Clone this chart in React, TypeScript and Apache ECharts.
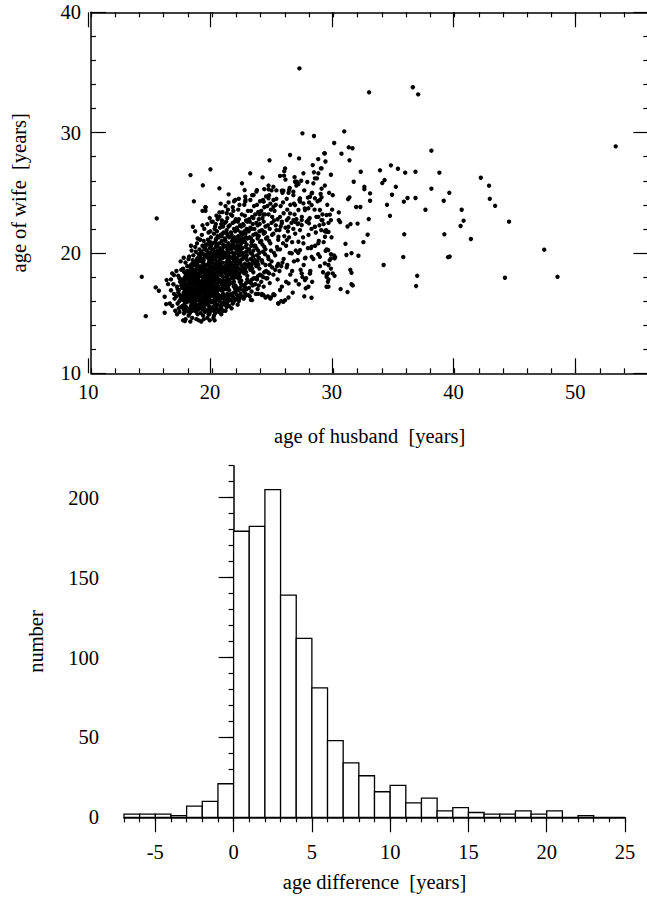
import React, { useEffect, useRef } from "react";
import * as echarts from "echarts";

// ---------- scatter: [age of husband, age of wife] ----------
const couplesYoung: [number, number][] = [
  [16.6,16.9],[16.7,15.6],[16.8,17.4],[16.9,16.2],[16.7,18.3],[16.95,15.2],[16.6,17.8],[16.85,16.6],
  [17.05,16.4],[17.1,17.2],[17.15,15.8],[17.2,18.1],[17.25,16.9],[17.3,15.1],[17.35,17.6],[17.4,16.2],[17.45,18.6],[17.1,14.9],[17.2,16.7],[17.3,17.9],[17.4,15.5],[17.15,17.0],[17.35,16.5],[17.45,17.3],[17.05,18.5],[17.25,15.4],[17.4,19.3],[17.3,16.0],
  [17.55,16.1],[17.6,17.5],[17.65,15.3],[17.7,18.4],[17.75,16.8],[17.8,14.5],[17.85,17.1],[17.9,15.9],[17.95,18.9],[17.55,17.8],[17.6,16.4],[17.65,19.6],[17.7,15.7],[17.75,17.4],[17.8,16.2],[17.85,18.2],[17.9,16.9],[17.95,15.2],[17.6,18.7],[17.7,17.0],[17.8,17.7],[17.9,16.5],[17.55,15.6],[17.65,16.7],[17.75,18.0],[17.85,15.5],[17.95,17.3],[17.6,14.4],[17.7,16.0],[17.8,19.2],[17.9,17.9],[17.65,17.2],[17.75,15.1],[17.85,16.6],[17.95,16.1],
  [18.05,17.2],[18.1,16.3],[18.15,18.5],[18.2,15.4],[18.25,17.8],[18.3,16.7],[18.35,19.1],[18.4,15.9],[18.45,18.0],[18.05,16.0],[18.1,17.6],[18.15,15.0],[18.2,18.8],[18.25,16.4],[18.3,17.3],[18.35,14.6],[18.4,17.0],[18.45,16.2],[18.05,18.3],[18.1,19.7],[18.15,16.9],[18.2,17.5],[18.25,15.6],[18.3,18.6],[18.35,16.1],[18.4,19.4],[18.45,17.4],[18.1,15.3],[18.2,16.6],[18.3,15.8],[18.4,18.2],[18.05,14.8],[18.15,17.9],[18.25,19.0],[18.35,17.7],[18.45,15.5],[18.1,18.1],[18.2,16.9],[18.3,20.2],[18.4,16.5],[18.15,16.5],[18.25,18.4],[18.35,15.2],[18.45,16.8],[18.05,19.5],[18.2,14.3],[18.3,17.1],[18.4,17.8],[18.1,16.8],[18.25,20.6],[18.35,18.9],[18.45,19.8],[18.0,17.4],[18.2,17.2],[18.3,16.0],
  [18.55,17.0],[18.6,18.4],[18.65,16.2],[18.7,19.3],[18.75,15.7],[18.8,17.6],[18.85,16.8],[18.9,18.1],[18.95,15.4],[18.55,19.0],[18.6,16.6],[18.65,17.9],[18.7,15.1],[18.75,18.7],[18.8,16.3],[18.85,19.6],[18.9,17.2],[18.95,16.0],[18.55,15.8],[18.6,17.3],[18.65,20.1],[18.7,16.9],[18.75,17.5],[18.8,14.9],[18.85,18.3],[18.9,15.7],[18.95,18.8],[18.6,20.5],[18.7,17.8],[18.8,19.0],[18.9,16.5],[18.55,16.4],[18.65,18.6],[18.75,16.1],[18.85,15.3],[18.95,17.4],[18.6,15.2],[18.7,18.2],[18.8,18.0],[18.9,19.9],[18.55,18.0],[18.65,15.5],[18.75,19.5],[18.85,17.0],[18.95,20.3],[18.6,19.2],[18.7,14.5],[18.8,16.7],[18.9,17.7],[18.65,17.1],[18.75,17.2],[18.85,16.4],[18.95,18.5],[18.55,17.7],[18.7,16.4],[18.8,21.2],[18.9,14.4],[18.6,21.8],[18.75,20.8],[18.85,19.3],
];

const couplesCore: [number, number][] = [
  [19.05,17.5],[19.1,16.1],[19.15,18.7],[19.2,15.3],[19.25,17.9],[19.3,19.4],[19.35,16.6],[19.4,18.2],[19.45,15.8],[19.05,19.8],[19.1,17.1],[19.15,15.5],[19.2,18.4],[19.25,16.3],[19.3,17.6],[19.35,20.3],[19.4,16.0],[19.45,19.0],[19.05,16.5],[19.1,18.9],[19.15,17.3],[19.2,20.6],[19.25,14.8],[19.3,16.9],[19.35,18.5],[19.4,17.4],[19.45,16.7],[19.1,14.3],[19.2,17.7],[19.3,15.6],[19.4,19.7],[19.05,18.1],[19.15,16.2],[19.25,19.2],[19.35,17.0],[19.45,18.0],[19.1,20.1],[19.2,16.8],[19.3,18.0],[19.4,15.1],[19.05,15.0],[19.15,19.5],[19.25,18.6],[19.35,15.4],[19.45,17.2],[19.1,19.3],[19.2,17.0],[19.3,21.0],[19.4,16.4],[19.15,21.5],[19.25,17.4],[19.35,19.0],[19.45,20.7],[19.05,17.0],[19.2,22.3],[19.3,16.2],[19.4,18.7],[19.1,15.8],[19.25,15.9],[19.45,15.2],[19.2,23.5],[19.35,22.0],[19.45,23.8],[19.0,21.1],[19.3,14.5],
  [19.55,18.3],[19.6,16.9],[19.65,19.6],[19.7,15.6],[19.75,17.8],[19.8,20.4],[19.85,16.4],[19.9,18.9],[19.95,17.1],[19.55,15.2],[19.6,18.0],[19.65,16.6],[19.7,19.1],[19.75,14.9],[19.8,17.4],[19.85,20.9],[19.9,15.9],[19.95,19.4],[19.55,20.2],[19.6,17.3],[19.65,15.7],[19.7,18.5],[19.75,16.2],[19.8,18.8],[19.85,17.6],[19.9,21.3],[19.95,16.0],[19.6,14.6],[19.7,17.0],[19.8,15.5],[19.9,17.9],[19.55,17.5],[19.65,18.2],[19.75,20.0],[19.85,15.1],[19.95,18.4],[19.6,19.9],[19.7,16.3],[19.8,16.8],[19.9,20.6],[19.55,16.7],[19.65,21.1],[19.75,18.7],[19.85,19.2],[19.95,15.4],[19.6,15.9],[19.7,20.8],[19.8,19.6],[19.9,16.6],[19.65,17.2],[19.75,15.3],[19.85,18.1],[19.95,20.3],[19.55,19.0],[19.7,21.7],[19.8,14.4],[19.9,17.2],[19.6,22.4],[19.75,17.6],[19.85,21.8],[19.95,22.6],[19.55,16.1],[19.7,14.9],[19.8,22.9],[19.9,19.8],[19.65,16.0],[19.75,19.3],[19.95,17.7],[19.6,20.7],
  [20.05,18.6],[20.1,17.2],[20.15,19.9],[20.2,15.8],[20.25,18.1],[20.3,20.5],[20.35,16.7],[20.4,19.3],[20.45,17.5],[20.05,15.5],[20.1,18.8],[20.15,16.4],[20.2,20.1],[20.25,15.0],[20.3,17.9],[20.35,21.2],[20.4,16.1],[20.45,19.7],[20.05,20.8],[20.1,16.0],[20.15,18.3],[20.2,17.3],[20.25,19.5],[20.3,15.6],[20.35,18.5],[20.4,17.8],[20.45,21.4],[20.1,14.6],[20.2,18.7],[20.3,16.9],[20.4,20.6],[20.05,17.4],[20.15,21.6],[20.25,16.6],[20.35,19.8],[20.45,16.3],[20.1,20.3],[20.2,16.2],[20.3,19.1],[20.4,15.3],[20.05,19.2],[20.15,15.2],[20.25,20.9],[20.35,17.2],[20.45,18.3],[20.1,19.6],[20.2,22.0],[20.3,18.2],[20.4,18.0],[20.15,17.7],[20.25,17.0],[20.35,15.4],[20.45,20.2],[20.05,16.9],[20.2,19.0],[20.3,22.4],[20.4,21.8],[20.1,17.9],[20.25,15.9],[20.35,20.0],[20.45,15.7],[20.05,22.6],[20.15,14.8],[20.3,21.1],[20.4,16.8],[20.2,14.4],[20.35,23.1],[20.45,22.8],[20.1,15.9],[20.25,22.2],
  [20.55,19.0],[20.6,17.6],[20.65,20.4],[20.7,16.2],[20.75,18.4],[20.8,21.0],[20.85,17.1],[20.9,19.6],[20.95,15.9],[20.55,16.5],[20.6,19.3],[20.65,17.0],[20.7,21.5],[20.75,15.4],[20.8,18.1],[20.85,20.2],[20.9,16.6],[20.95,18.8],[20.55,21.3],[20.6,16.0],[20.65,18.7],[20.7,17.7],[20.75,20.0],[20.8,16.4],[20.85,19.2],[20.9,18.0],[20.95,21.7],[20.6,15.3],[20.7,19.0],[20.8,17.4],[20.9,20.7],[20.55,17.8],[20.65,22.1],[20.75,16.9],[20.85,15.7],[20.95,17.3],[20.6,20.8],[20.7,15.6],[20.8,19.8],[20.9,17.0],[20.55,15.1],[20.65,16.3],[20.75,22.4],[20.85,18.5],[20.95,19.9],[20.6,18.2],[20.7,20.3],[20.8,22.7],[20.9,15.2],[20.65,19.5],[20.75,17.5],[20.85,21.6],[20.95,16.2],[20.55,20.0],[20.7,18.4],[20.8,15.8],[20.9,22.2],[20.6,23.0],[20.75,14.9],[20.85,23.4],[20.95,20.5],[20.55,18.6],[20.7,24.1],[20.9,18.7],
];

const couplesCoreExtra: [number, number][] = [
  [18.12,17.0],[18.28,18.1],[18.43,16.6],[18.58,17.4],[18.72,18.9],[18.88,16.1],[19.02,18.4],[19.18,16.9],[19.32,19.9],[19.48,17.7],
  [19.62,18.6],[19.78,17.1],[19.92,18.2],[20.08,19.5],[20.22,16.5],[20.38,18.8],[20.52,17.2],[20.68,19.8],[20.82,18.6],[20.98,17.7],
  [21.12,19.9],[21.28,18.7],[21.42,20.4],[21.58,18.6],[21.72,21.2],[21.88,19.3],[22.02,20.2],[22.18,19.9],[22.32,20.6],[22.48,20.4],
  [18.18,16.2],[18.38,17.5],[18.62,16.0],[18.82,17.9],[19.08,16.7],[19.28,17.3],[19.52,16.4],[19.72,18.1],[19.98,16.7],[20.18,17.6],
  [20.42,17.1],[20.62,18.9],[20.88,16.9],[21.08,18.3],[21.32,17.6],[21.52,19.6],[21.78,17.2],[22.08,18.8],[22.28,17.6],[22.52,19.5],
  [17.52,17.1],[17.72,16.5],[17.92,18.5],[18.48,18.6],[18.98,19.6],[19.42,20.4],[19.88,20.0],[20.32,20.8],[20.78,21.4],[21.22,21.6],
  [21.68,20.7],[22.12,22.6],[22.58,21.6],[23.02,21.8],[23.48,22.0],[23.92,22.4],[24.22,23.2],[23.22,20.6],[22.82,20.1],[21.98,20.0],
];

const couplesMid: [number, number][] = [
  [21.05,18.9],[21.1,17.3],[21.15,20.6],[21.2,16.1],[21.25,19.3],[21.3,21.4],[21.35,17.8],[21.4,20.0],[21.45,16.5],[21.05,15.7],[21.1,19.7],[21.15,17.0],[21.2,21.9],[21.25,15.9],[21.3,18.5],[21.35,20.8],[21.4,16.9],[21.45,19.0],[21.05,21.2],[21.1,16.4],[21.15,18.4],[21.2,18.0],[21.25,20.3],[21.3,16.0],[21.35,19.4],[21.4,18.2],[21.45,22.3],[21.1,15.2],[21.2,19.6],[21.3,17.2],[21.4,21.3],[21.05,17.6],[21.15,22.6],[21.25,17.4],[21.35,16.3],[21.45,17.6],[21.1,21.0],[21.2,15.5],[21.3,20.2],[21.4,17.4],[21.05,20.0],[21.15,15.8],[21.25,22.9],[21.35,18.8],[21.45,20.6],[21.1,18.6],[21.2,23.3],[21.3,19.0],[21.4,15.6],[21.15,19.2],[21.25,18.2],[21.35,22.2],[21.45,18.4],[21.05,22.5],[21.2,17.7],[21.3,23.6],[21.4,19.7],[21.1,23.9],[21.25,16.6],[21.35,24.2],
  [21.55,19.2],[21.6,17.9],[21.65,21.0],[21.7,16.4],[21.75,19.7],[21.8,22.0],[21.85,18.1],[21.9,20.4],[21.95,16.8],[21.55,16.1],[21.6,20.3],[21.65,17.5],[21.7,22.5],[21.75,15.9],[21.8,18.8],[21.85,21.3],[21.9,17.3],[21.95,19.5],[21.55,21.7],[21.6,16.6],[21.65,18.9],[21.7,18.4],[21.75,20.9],[21.8,16.7],[21.85,19.9],[21.9,18.6],[21.95,22.8],[21.6,15.4],[21.7,20.0],[21.8,17.6],[21.9,21.8],[21.55,18.2],[21.65,23.1],[21.75,17.9],[21.85,16.2],[21.95,18.0],[21.6,21.5],[21.7,15.8],[21.8,20.6],[21.9,17.0],[21.55,20.5],[21.65,16.0],[21.75,23.5],[21.85,19.0],[21.95,21.1],[21.6,19.0],[21.7,23.8],[21.8,19.4],[21.9,16.1],[21.65,19.6],[21.75,18.3],[21.85,22.6],[21.95,17.2],[21.55,23.2],[21.8,24.3],
  [22.05,19.6],[22.1,18.2],[22.15,21.4],[22.2,16.9],[22.25,20.1],[22.3,22.3],[22.35,18.6],[22.4,20.8],[22.45,17.3],[22.05,16.5],[22.1,20.6],[22.15,17.9],[22.2,22.8],[22.25,16.2],[22.3,19.2],[22.35,21.7],[22.4,17.7],[22.45,19.9],[22.05,22.1],[22.1,17.0],[22.15,19.3],[22.2,18.7],[22.25,21.2],[22.3,17.1],[22.35,20.3],[22.4,19.0],[22.45,23.2],[22.1,15.7],[22.2,20.4],[22.3,18.0],[22.4,22.2],[22.05,18.4],[22.15,23.6],[22.25,18.3],[22.35,16.6],[22.45,18.5],[22.1,21.9],[22.2,16.0],[22.3,21.0],[22.4,17.4],[22.05,20.9],[22.15,16.3],[22.25,24.0],[22.35,19.4],[22.45,21.5],[22.1,19.1],[22.2,24.5],[22.3,19.8],[22.4,16.4],
  [22.55,20.0],[22.6,18.5],[22.65,21.8],[22.7,17.2],[22.75,20.5],[22.8,22.7],[22.85,19.0],[22.9,21.2],[22.95,17.6],[22.55,16.9],[22.6,21.0],[22.65,18.3],[22.7,23.1],[22.75,16.6],[22.8,19.6],[22.85,22.0],[22.9,18.1],[22.95,20.3],[22.55,22.4],[22.6,17.3],[22.65,19.7],[22.7,19.1],[22.75,21.6],[22.8,17.5],[22.85,20.7],[22.9,19.4],[22.95,23.5],[22.6,16.2],[22.7,20.9],[22.8,18.4],[22.9,22.6],[22.55,18.8],[22.65,24.0],[22.75,18.7],[22.85,17.0],[22.95,18.9],[22.6,22.3],[22.7,16.4],[22.8,21.3],[22.9,17.8],[22.55,21.2],[22.65,16.8],[22.75,24.4],[22.85,19.8],[22.95,21.9],
  [23.05,20.3],[23.1,18.8],[23.15,22.1],[23.2,17.5],[23.25,20.9],[23.3,23.0],[23.35,19.3],[23.4,21.5],[23.45,17.9],[23.05,17.1],[23.1,21.3],[23.15,18.6],[23.2,23.5],[23.25,16.8],[23.3,19.9],[23.35,22.4],[23.4,18.4],[23.45,20.6],[23.05,22.8],[23.1,17.6],[23.15,20.0],[23.2,19.5],[23.25,22.0],[23.3,17.8],[23.35,21.0],[23.4,19.7],[23.45,23.9],[23.1,16.4],[23.2,21.2],[23.3,18.7],[23.4,22.9],[23.05,19.1],[23.15,24.4],[23.25,19.0],[23.35,17.3],[23.45,19.2],[23.1,22.6],[23.2,16.1],[23.3,24.8],[23.4,20.2],
  [23.55,20.6],[23.6,19.1],[23.65,22.5],[23.7,17.8],[23.75,21.2],[23.8,23.4],[23.85,19.6],[23.9,21.8],[23.95,18.2],[23.55,17.4],[23.6,21.6],[23.65,18.9],[23.7,24.0],[23.75,17.0],[23.8,20.2],[23.85,22.8],[23.9,18.7],[23.95,20.9],[23.55,23.2],[23.6,17.9],[23.65,20.4],[23.7,19.8],[23.75,22.3],[23.8,18.1],[23.85,21.4],[23.9,20.0],[23.95,24.3],[23.6,16.6],[23.7,21.5],[23.8,19.0],[23.9,23.2],[23.55,19.4],[23.65,25.1],[23.75,19.3],[23.85,17.3],
];

const couplesOlder: [number, number][] = [
  [24.05,21.0],[24.1,19.4],[24.15,22.9],[24.2,18.0],[24.25,21.6],[24.3,23.8],[24.35,19.9],[24.4,22.2],[24.45,18.5],[24.05,17.6],[24.1,21.9],[24.15,19.2],[24.2,24.4],[24.25,17.2],[24.3,20.5],[24.35,23.2],[24.4,19.0],[24.45,21.2],[24.05,23.5],[24.1,18.1],[24.15,20.7],[24.2,20.1],[24.25,22.6],[24.3,18.4],[24.35,21.7],[24.4,20.3],[24.45,24.7],[24.1,16.5],[24.2,21.8],[24.3,25.3],[24.4,16.3],[24.45,17.9],
  [24.55,21.3],[24.6,19.7],[24.65,23.2],[24.7,18.3],[24.75,22.0],[24.8,24.1],[24.85,20.2],[24.9,22.5],[24.95,18.8],[24.55,17.9],[24.6,22.3],[24.65,19.5],[24.7,24.8],[24.75,17.5],[24.8,20.8],[24.85,23.6],[24.9,19.3],[24.95,21.5],[24.55,23.9],[24.6,18.4],[24.7,21.0],[24.8,16.2],[24.9,25.2],[24.6,16.4],[24.75,19.0],[24.85,16.3],[24.95,23.0],[24.65,25.6],
  [25.05,21.6],[25.1,20.0],[25.15,23.5],[25.2,18.6],[25.25,22.3],[25.3,24.5],[25.35,20.5],[25.4,22.8],[25.45,19.1],[25.05,18.2],[25.1,22.7],[25.2,19.8],[25.3,25.2],[25.4,17.8],[25.45,21.1],[25.15,16.5],[25.25,24.0],[25.35,18.9],[25.05,25.5],[25.3,21.9],[25.4,20.3],[25.45,15.8],
  [25.55,21.9],[25.6,20.3],[25.65,23.9],[25.7,18.9],[25.75,22.6],[25.8,25.0],[25.85,20.8],[25.9,19.5],[25.55,18.5],[25.65,22.2],[25.75,17.2],[25.85,24.2],[25.95,21.4],[25.6,26.4],[25.7,16.0],[25.9,23.3],[25.8,19.2],[25.95,26.8],
  [26.05,22.1],[26.1,20.6],[26.15,24.5],[26.2,19.0],[26.3,22.9],[26.35,21.3],[26.4,25.4],[26.45,18.2],[26.1,17.6],[26.2,23.6],[26.3,16.3],[26.4,20.0],[26.05,26.1],[26.25,21.8],[26.45,24.0],[26.15,18.8],
  [26.55,22.5],[26.6,20.9],[26.7,24.8],[26.75,19.3],[26.8,23.2],[26.85,21.6],[26.9,17.7],[26.95,25.6],[26.6,18.5],[26.7,22.0],[26.8,26.3],[26.9,20.2],[26.65,16.7],[26.95,22.8],[26.75,24.1],
  [27.05,22.4],[27.1,20.0],[27.2,24.4],[27.3,18.6],[27.4,23.0],[27.5,21.3],[27.6,25.2],[27.7,19.6],[27.8,22.6],[27.9,24.6],[27.15,17.4],[27.35,26.0],[27.55,19.0],[27.75,17.9],[27.95,21.5],[27.25,21.9],[27.45,18.0],[27.65,23.7],[27.85,25.9],[27.05,19.4],[27.6,16.4],[27.9,20.4],
  [28.05,22.9],[28.15,20.4],[28.25,25.0],[28.35,19.5],[28.45,23.6],[28.55,21.7],[28.65,26.2],[28.75,19.9],[28.85,22.3],[28.95,24.9],[28.1,18.5],[28.3,27.3],[28.5,20.6],[28.7,24.3],[28.9,18.9],[28.2,22.0],[28.4,26.7],[28.6,23.0],[28.8,21.0],[28.0,24.2],[28.25,17.6],[28.75,27.8],
  [29.1,23.2],[29.2,20.9],[29.3,25.6],[29.4,21.9],[29.5,24.0],[29.6,22.5],[29.7,19.4],[29.8,26.5],[29.9,23.6],[29.15,18.4],[29.45,20.3],[29.65,25.0],[29.85,21.3],[29.35,27.6],[29.55,17.6],[29.95,24.8],
  [25.6,23.0],[26.16,22.73],[26.43,23.29],[26.71,22.73],[27.12,22.46],[27.39,22.73],[27.99,22.46],[28.76,23.0],[29.03,22.73],[29.44,23.15],[29.8,22.73],
  [27.39,18.3],[28.07,18.3],[27.66,17.75],[27.94,17.19],[29.58,18.3],[29.44,17.19],[25.6,16.92],[26.3,17.47],[25.06,16.5],[24.24,16.5],[23.28,16.08],[25.88,15.94],
  [26.57,19.97],[27.25,20.24],[27.53,20.8],[28.21,20.52],[28.76,20.8],[29.31,21.35],[29.58,20.24],[28.89,19.68],[28.21,19.68],[27.66,19.55],
  [25.75,22.46],[26.3,22.18],[26.84,22.59],[27.39,22.32],[27.94,22.73],[28.48,22.18],[25.47,21.35],[26.16,21.07],[27.12,20.93],
  [25.93,26.42],[28.97,27.03],[28.76,26.62],[28.48,26.2],[28.35,25.79],[24.16,26.28],[26.98,25.92],[27.12,25.73],
  [22.68,25.23],[23.69,25.23],[24.65,25.29],[25.75,25.17],[26.35,25.23],[26.7,25.09],[22.73,24.67],[22.73,24.26],[21.91,24.4],[23.42,24.81],
  [24.25,24.26],[24.65,24.54],[25.06,24.4],[25.06,23.84],[27.25,24.54],[27.25,24.26],[27.53,24.12],[26.84,23.98],
  [28.07,24.67],[28.21,24.95],[28.48,24.54],[28.89,24.4],[28.89,23.57],[28.21,23.98],[27.94,23.71],[27.66,23.57],[27.12,23.57],[25.88,25.17],[26.3,25.0],
];

const couplesSparse: [number, number][] = [
  [29.03,25.34],[29.03,24.62],[29.71,23.18],[30.45,23.37],[30.45,22.73],[30.56,22.57],[29.1,22.73],[29.2,22.4],[32.0,22.44],[31.42,22.4],[31.17,22.2],[32.92,22.82],
  [29.0,21.9],[29.3,21.8],[29.45,21.75],[29.6,21.75],[32.83,21.52],[32.48,20.9],[31.0,20.76],[29.36,20.18],[29.8,19.9],[30.05,19.8],[30.15,19.65],[29.8,19.55],[30.1,19.55],
  [31.08,19.83],[31.5,19.98],[32.07,19.77],[29.3,19.13],[29.6,19.0],[29.8,18.7],[29.95,18.3],[29.45,18.2],[29.6,17.8],[30.1,18.1],[31.4,18.6],[31.5,18.35],[31.5,17.4],[31.6,17.3],
  [30.6,17.0],[31.17,16.75],[29.6,17.2],
  [30.9,30.1],[30.07,29.14],[31.27,28.78],[31.58,28.7],[29.3,28.28],[30.67,28.25],[31.33,27.7],[31.68,25.92],[32.56,25.5],[32.56,25.3],[32.26,26.75],[31.33,24.62],[31.22,24.47],
  [31.88,23.82],[32.23,23.82],[33.03,24.95],[33.03,24.34],
  [32.95,33.35],[36.56,33.77],[37.0,33.18],[53.3,28.86],[38.09,28.5],[34.75,27.28],[35.33,27.0],[33.85,26.87],[35.93,26.67],[36.78,26.75],[38.75,26.67],[42.17,26.25],[42.85,25.59],
  [34.04,25.81],[34.23,26.06],[35.16,25.5],[34.84,24.84],[38.09,25.34],[39.57,25.0],[42.91,24.5],[43.35,23.92],[36.12,24.57],[36.78,24.57],[35.82,24.26],[39.11,24.34],[34.43,24.0],
  [37.6,23.59],[40.59,23.59],[34.67,23.09],[40.75,22.68],[40.5,22.24],[44.5,22.6],[35.85,21.55],[39.16,21.55],[41.35,21.16],[47.4,20.27],[35.77,19.66],[39.47,19.65],[39.6,19.7],
  [34.15,19.0],[36.92,18.1],[44.16,17.94],[48.5,18.02],[36.83,17.25],
];

const couplesOutlying: [number, number][] = [
  [14.19,18.02],[14.52,14.75],[15.42,22.87],[15.34,17.14],[15.6,16.86],[16.24,17.75],[16.36,17.41],[16.08,16.36],[16.08,15.03],[16.85,18.16],[16.2,15.75],[16.5,15.8],
  [17.67,14.98],[17.75,14.34],[18.21,26.47],[18.49,24.29],[18.41,22.18],[19.23,25.62],[19.45,23.79],[19.45,23.51],[19.86,26.95],[20.6,25.37],[20.6,23.37],[21.36,24.87],
  [22.46,25.79],[23.14,26.62],[24.73,27.7],[26.02,27.03],[26.43,28.14],[27.17,27.86],[27.2,35.34],[27.45,29.94],[28.4,29.72],[29.25,28.28],[27.53,26.62],[26.84,25.92],
  [29.03,27.03],[22.8,17.0],[23.0,16.5],[23.8,16.6],[24.1,16.6],[25.06,16.58],[25.47,15.81],[26.02,16.08],[28.2,16.28],[27.72,17.06],[28.07,18.3],[29.44,18.02],
];

// ---------- histogram of age difference (1-year bins) ----------
const binStarts = [-7,-6,-5,-4,-3,-2,-1,0,1,2,3,4,5,6,7,8,9,10,11,12,13,14,15,16,17,18,19,20,21,22,23,24];
const binCounts = [2,2,2,1,7,10,21,179,182,205,139,112,81,48,34,26,16,20,9,12,4,6,3,2,2,4,2,4,0,1,0,0];

const FONT = "'Liberation Serif', 'DejaVu Serif', serif";
const FS = 20.5;
const BLACK = "#000";

export default function App() {
  const ref = useRef<HTMLDivElement>(null);

  useEffect(() => {
    if (!ref.current) return;
    const chart = echarts.init(ref.current, undefined, { renderer: "svg" });

    const scatterData = [
      ...couplesYoung, ...couplesCore, ...couplesCoreExtra, ...couplesMid, ...couplesOlder, ...couplesSparse, ...couplesOutlying,
    ];
    const histData = binStarts.map((s, i) => [s, binCounts[i]]);

    const line = { show: true, lineStyle: { color: BLACK, width: 1.5 } };
    const noLine = { show: false };
    const lbl = { color: BLACK, fontFamily: FONT, fontSize: FS };
    const tick = (len: number, inside: boolean) => ({
      show: true, inside, length: len, lineStyle: { color: BLACK, width: 1.2 },
    });
    const nameStyle = { color: BLACK, fontFamily: FONT, fontSize: FS };

    // scatter plot geometry
    const sLeft = 88.3, sTop = 12.3, sH = 361, sPx = 12.176;
    // histogram geometry
    const hLeft = 124, hBottom = 817.3, hPxX = 501 / 32, hPxY = 1.598;

    const option: any = {
      animation: false,
      backgroundColor: "#fff",
      textStyle: { fontFamily: FONT },
      grid: [
        { left: sLeft, top: sTop, width: 46 * sPx, height: sH },
        { left: sLeft, top: sTop, width: 40 * sPx, height: sH },
        { left: hLeft, top: hBottom - 220 * hPxY, width: 32 * hPxX, height: 220 * hPxY },
        { left: hLeft + 2 * hPxX, top: hBottom - 220 * hPxY, width: 30 * hPxX, height: 220 * hPxY },
        { left: hLeft, top: hBottom - 200 * hPxY, width: 32 * hPxX, height: 200 * hPxY },
      ],
      xAxis: [
        { gridIndex: 0, type: "value", position: "bottom", min: 10, max: 56, interval: 2,
          axisLine: line, axisTick: tick(5, true), axisLabel: { show: false }, splitLine: { show: false },
          name: "age of husband  [years]", nameLocation: "middle", nameGap: 52, nameTextStyle: nameStyle },
        { gridIndex: 0, type: "value", position: "top", min: 10, max: 56, interval: 2,
          axisLine: line, axisTick: tick(5, true), axisLabel: { show: false }, splitLine: { show: false } },
        { gridIndex: 1, type: "value", position: "bottom", min: 10, max: 50, interval: 10,
          axisLine: noLine, axisTick: tick(15, true), axisLabel: { ...lbl, margin: 8 }, splitLine: { show: false } },
        { gridIndex: 1, type: "value", position: "top", min: 10, max: 50, interval: 10,
          axisLine: noLine, axisTick: tick(15, true), axisLabel: { show: false }, splitLine: { show: false } },
        { gridIndex: 2, type: "value", position: "bottom", min: -7, max: 25, interval: 1,
          axisLine: line, axisTick: tick(5, false), axisLabel: { show: false }, splitLine: { show: false },
          name: "age difference  [years]", nameLocation: "middle", nameGap: 54, nameTextStyle: nameStyle },
        { gridIndex: 3, type: "value", position: "bottom", min: -5, max: 25, interval: 5,
          axisLine: noLine, axisTick: tick(15, false), axisLabel: { ...lbl, margin: 24 }, splitLine: { show: false } },
        { gridIndex: 4, type: "value", min: -7, max: 25, show: false },
      ],
      yAxis: [
        { gridIndex: 0, type: "value", position: "left", min: 10, max: 40, interval: 10,
          axisLine: line, axisTick: tick(15, true),
          minorTick: { show: true, splitNumber: 5, length: 5, lineStyle: { color: BLACK, width: 1.2 } },
          axisLabel: { ...lbl, margin: 10 }, splitLine: { show: false }, minorSplitLine: { show: false },
          name: "age of wife  [years]", nameLocation: "middle", nameGap: 62, nameTextStyle: nameStyle },
        { gridIndex: 0, type: "value", position: "right", min: 10, max: 40, interval: 10,
          axisLine: line, axisTick: tick(15, true),
          minorTick: { show: true, splitNumber: 5, length: 5, lineStyle: { color: BLACK, width: 1.2 } },
          axisLabel: { show: false }, splitLine: { show: false } },
        { gridIndex: 1, type: "value", min: 10, max: 40, show: false },
        { gridIndex: 2, type: "value", position: "left", min: 0, max: 220, interval: 10,
          axisLine: line, axisTick: tick(5, false), axisLabel: { show: false }, splitLine: { show: false },
          name: "number", nameLocation: "middle", nameGap: 78, nameTextStyle: nameStyle },
        { gridIndex: 3, type: "value", min: 0, max: 220, show: false },
        { gridIndex: 4, type: "value", position: "left", min: 0, max: 200, interval: 50,
          axisLine: noLine, axisTick: tick(15, false), axisLabel: { ...lbl, margin: 25 }, splitLine: { show: false } },
      ],
      series: [
        {
          type: "scatter", xAxisIndex: 0, yAxisIndex: 0, data: scatterData,
          symbol: "circle", symbolSize: 4.4, itemStyle: { color: BLACK, opacity: 1 }, silent: true,
          large: false,
        },
        {
          type: "custom", xAxisIndex: 4, yAxisIndex: 3, data: histData, silent: true,
          encode: { x: 0, y: 1 },
          renderItem: (_params: any, api: any) => {
            const x0 = api.value(0);
            const c = api.value(1);
            const pTop = api.coord([x0, c]);
            const pBot = api.coord([x0 + 1, 0]);
            return {
              type: "rect",
              shape: { x: pTop[0], y: pTop[1], width: pBot[0] - pTop[0], height: pBot[1] - pTop[1] },
              style: { fill: "#fff", stroke: BLACK, lineWidth: 1.3 },
            };
          },
        },
      ],
    };

    chart.setOption(option);
    return () => chart.dispose();
  }, []);

  return (
    <div style={{ position: "absolute", left: 0, top: 0, width: 647, height: 900, overflow: "hidden", background: "#fff" }}>
      <div ref={ref} style={{ width: 660, height: 900 }} />
    </div>
  );
}
